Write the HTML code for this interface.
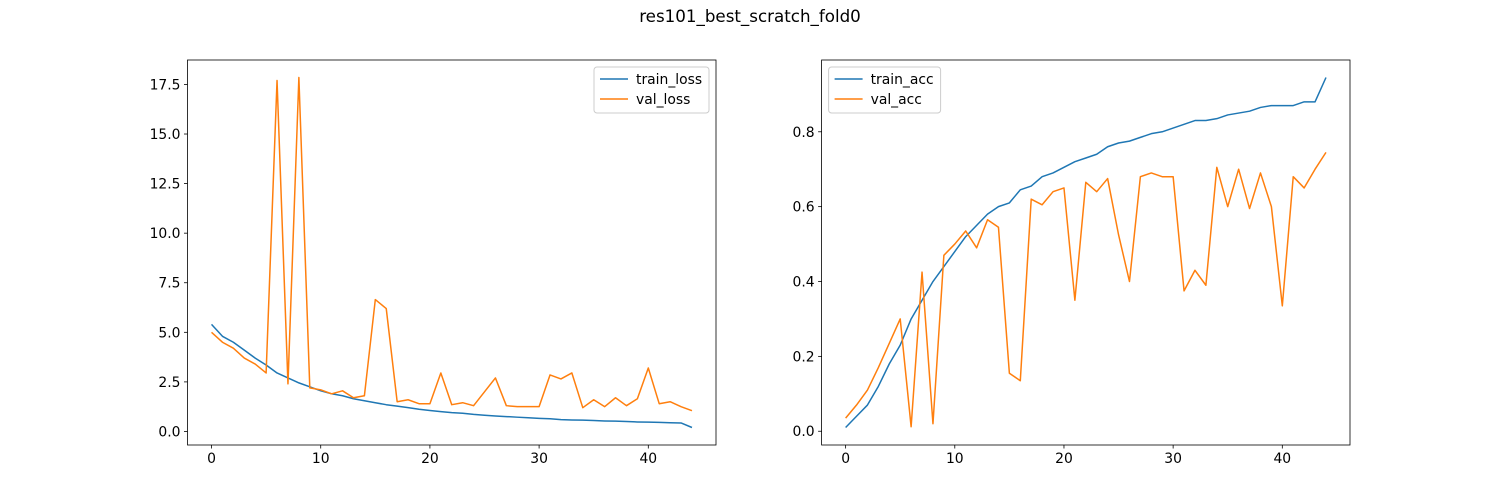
<!DOCTYPE html>
<html><head><meta charset="utf-8"><style>
html,body{margin:0;padding:0;background:#fff;}
svg{display:block;font-family:"DejaVu Sans","Liberation Sans",sans-serif;}
</style></head><body>
<svg id="fig" width="1500" height="500">
<rect width="1500" height="500" fill="#fff"/>
<text x="750" y="22" text-anchor="middle" font-size="16.7">res101_best_scratch_fold0</text>
</svg>
<script>
const epochs = Array.from({length:45},(_,i)=>i);
const trainLoss = [5.4,4.8,4.5,4.1,3.7,3.35,2.95,2.7,2.45,2.25,2.05,1.9,1.8,1.65,1.55,1.45,1.35,1.28,1.2,1.12,1.06,1.0,0.95,0.92,0.86,0.82,0.78,0.75,0.72,0.69,0.66,0.64,0.6,0.58,0.57,0.55,0.53,0.52,0.5,0.48,0.47,0.46,0.44,0.43,0.2];
const valLoss = [5.0,4.5,4.2,3.7,3.4,2.95,17.7,2.4,17.85,2.2,2.1,1.9,2.05,1.7,1.8,6.65,6.2,1.5,1.6,1.4,1.4,2.95,1.35,1.45,1.3,2.0,2.7,1.3,1.25,1.25,1.25,2.85,2.65,2.95,1.2,1.6,1.25,1.7,1.3,1.65,3.2,1.4,1.5,1.25,1.05];
const trainAcc = [0.01,0.04,0.07,0.12,0.18,0.23,0.3,0.35,0.4,0.44,0.48,0.52,0.55,0.58,0.6,0.61,0.645,0.655,0.68,0.69,0.705,0.72,0.73,0.74,0.76,0.77,0.775,0.785,0.795,0.8,0.81,0.82,0.83,0.83,0.835,0.845,0.85,0.855,0.865,0.87,0.87,0.87,0.88,0.88,0.945];
const valAcc = [0.035,0.07,0.11,0.17,0.235,0.3,0.012,0.425,0.02,0.47,0.5,0.535,0.49,0.565,0.545,0.155,0.135,0.62,0.605,0.64,0.65,0.35,0.665,0.64,0.675,0.525,0.4,0.68,0.69,0.68,0.68,0.375,0.43,0.39,0.705,0.6,0.7,0.595,0.69,0.6,0.335,0.68,0.65,0.7,0.745];
const xTicks = [0,10,20,30,40];
const lossTicks = [0,2.5,5,7.5,10,12.5,15,17.5];
const accTicks = [0,0.2,0.4,0.6,0.8];

const NS="http://www.w3.org/2000/svg";
const svg=document.getElementById('fig');
function mk(tag,attrs,parent){const e=document.createElementNS(NS,tag);for(const k in attrs)e.setAttribute(k,attrs[k]);(parent||svg).appendChild(e);return e;}

function panel(name,L,R,seriesA,seriesB,labels,yTicks,yFmt,legendRight){
  const T=60,B=445;
  const g=mk('g',{});
  
  
  const all=seriesA.concat(seriesB);
  const ymin=Math.min(...all),ymax=Math.max(...all),m=(ymax-ymin)*0.05;
  const y0=ymin-m,y1=ymax+m;
  const xmin=-2.2,xmax=46.2;
  const sx=v=>L+(v-xmin)/(xmax-xmin)*(R-L);
  const sy=v=>B-(v-y0)/(y1-y0)*(B-T);
  [[seriesA,'#1f77b4',labels[0]],[seriesB,'#ff7f0e',labels[1]]].forEach(([s,c,lab])=>{
    const p=mk('polyline',{points:s.map((v,i)=>sx(epochs[i])+','+sy(v)).join(' '),fill:'none',stroke:c,'stroke-width':1.5,'stroke-linejoin':'round'},g);
    
    
  });
  mk('rect',{x:L,y:T,width:R-L,height:B-T,fill:'none',stroke:'#000','stroke-width':0.8},g);
  xTicks.forEach(t=>{
    const x=sx(t);
    mk('line',{x1:x,x2:x,y1:B,y2:B+3.5,stroke:'#000','stroke-width':0.8},g);
    const tx=mk('text',{x:x,y:B+18,'text-anchor':'middle','font-size':13.9},g);
    tx.textContent=t;
    
    
  });
  yTicks.forEach(t=>{
    const y=sy(t);
    mk('line',{x1:L-3.5,x2:L,y1:y,y2:y,stroke:'#000','stroke-width':0.8},g);
    const tx=mk('text',{x:L-7,y:y+5,'text-anchor':'end','font-size':13.9},g);
    tx.textContent=yFmt(t);
    
    
  });
  const lw=labels[0].length>9?115:112,lh=46,lx=legendRight?R-7-lw:L+7,ly=T+7;
  const lg=mk('g',{},g);
  
  
  mk('rect',{x:lx,y:ly,width:lw,height:lh,rx:3,fill:'#fff','fill-opacity':0.8,stroke:'#ccc','stroke-width':1},lg);
  labels.forEach((lab,i)=>{
    const yy=ly+12+i*20;
    const c=i?'#ff7f0e':'#1f77b4';
    mk('line',{x1:lx+6,x2:lx+34,y1:yy,y2:yy,stroke:c,'stroke-width':1.5},lg);
    const tx=mk('text',{x:lx+42,y:yy+5,'font-size':13.9},lg);
    tx.textContent=lab;
    
    
  });
}
panel('loss',187.5,716,trainLoss,valLoss,['train_loss','val_loss'],lossTicks,t=>t.toFixed(1),true);
panel('acc',821.6,1350,trainAcc,valAcc,['train_acc','val_acc'],accTicks,t=>t.toFixed(1),false);
</script>
</body></html>
